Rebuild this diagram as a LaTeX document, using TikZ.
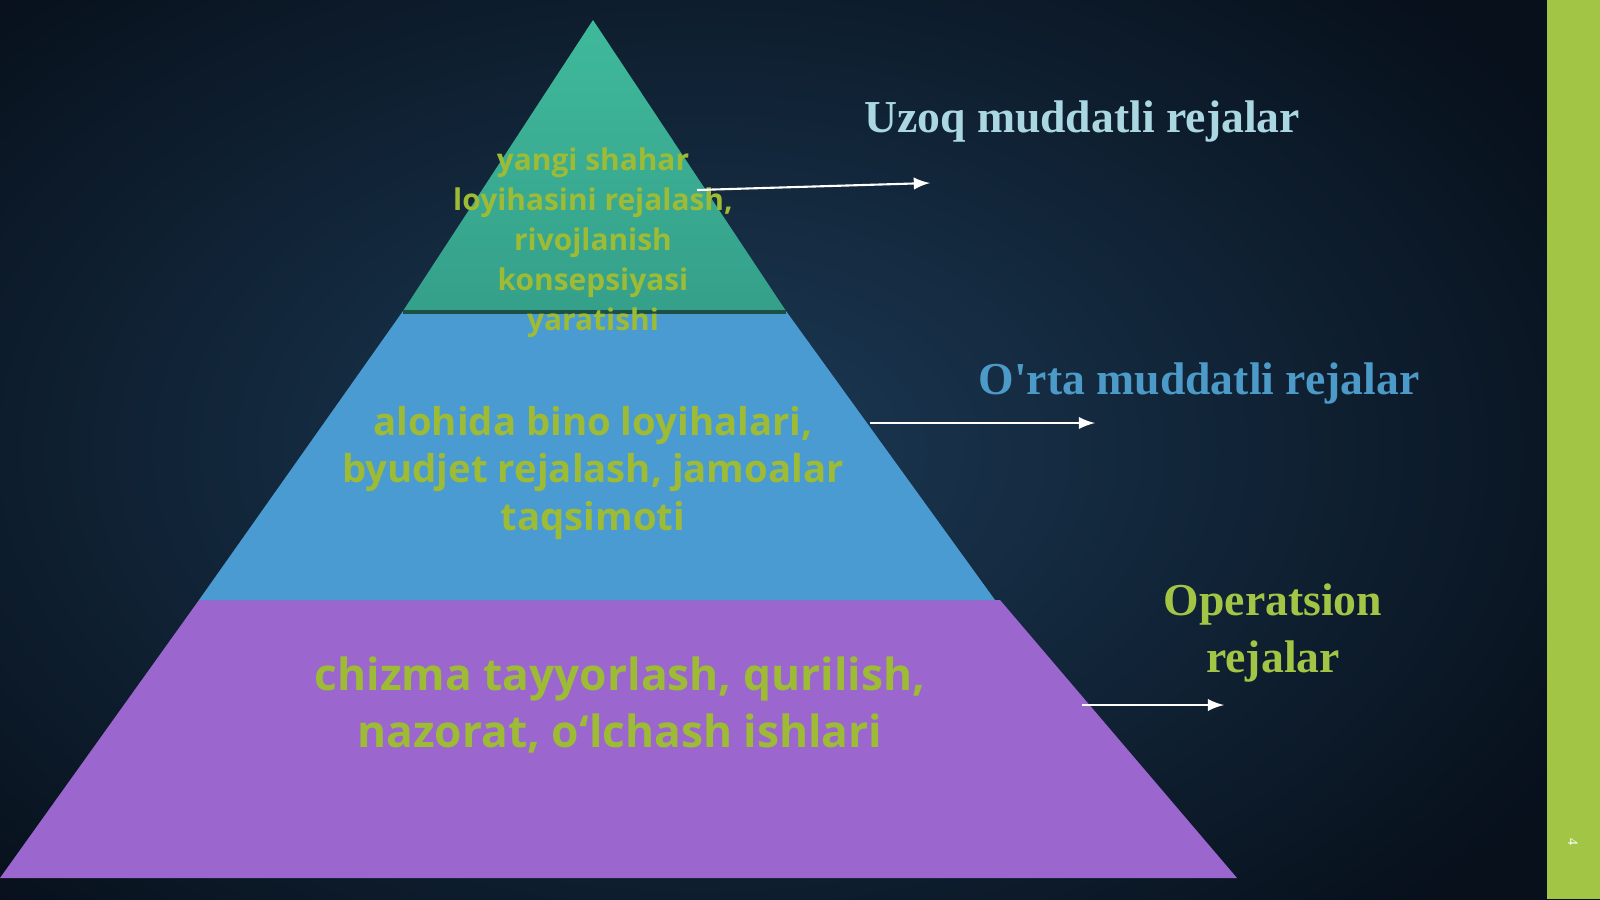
\documentclass[tikz,border=0pt]{standalone}
\usepackage{fontspec}
\setmainfont{Liberation Serif}
\newfontfamily\os{Open Sans}
\begin{document}
\begin{tikzpicture}[x=0.01cm,y=-0.01cm,
 ttl/.style={font=\bfseries\fontsize{13}{15}\selectfont,align=center},
 ptxt/.style={font=\os\bfseries,text=olive1,align=center},
 arr/.style={white,line width=0.6pt,-latex}]
\definecolor{bg}{HTML}{1C3A56}
\definecolor{bgd}{HTML}{07101B}
\definecolor{olive1}{HTML}{9DBB35}
\definecolor{teal1}{HTML}{3FB99B}
\definecolor{teal2}{HTML}{35A08A}
\definecolor{blue1}{HTML}{4A9BD2}
\definecolor{purp}{HTML}{9B66CD}
\definecolor{lime}{HTML}{A3C545}
\useasboundingbox (0,0) rectangle (1600,899);
\fill[bgd] (0,0) rectangle (1600,899);
\shade[inner color=bg,outer color=bgd] (-300,-200) rectangle (1700,1100);
\fill[lime] (1547,0) rectangle (1600,899);
\node[rotate=-90,text=white,font=\fontsize{4}{4}\selectfont] (pg) at (1573,842) {4};
% pyramid
\fill[purp] (0,878) -- (1237,878) -- (1000,600) -- (199,600) -- cycle;
\fill[blue1] (199,600) -- (995,600) -- (786,311) -- (403,311) -- cycle;
\shade[top color=teal1,bottom color=teal2] (403,311) -- (786,311) -- (593,20) -- cycle;
\draw[teal2!50!black,line width=1pt] (403,312) -- (786,312);
% texts
\node[ptxt,font=\os\bfseries\fontsize{8.5}{11.4}\selectfont] (t1) at (593,243) {yangi shahar\\loyihasini rejalash,\\rivojlanish\\konsepsiyasi\\yaratishi};
\node[ptxt,font=\os\bfseries\fontsize{10.9}{13.6}\selectfont] (t2) at (593,473) {alohida bino loyihalari,\\byudjet rejalash, jamoalar\\taqsimoti};
\node[ptxt,font=\os\bfseries\fontsize{12.6}{16}\selectfont] (t3) at (620,705) {chizma tayyorlash, qurilish,\\nazorat, o‘lchash ishlari};
\node[ttl,text={rgb,255:red,170;green,215;blue,225}] (u) at (1082,121) {Uzoq muddatli rejalar};
\node[ttl,text={rgb,255:red,76;green,154;blue,200}] (o) at (1199,383) {O\textquotesingle rta muddatli rejalar};
\node[ttl,text=lime,font=\bfseries\fontsize{13}{16}\selectfont] (op) at (1273,633) {Operatsion\\rejalar};
\coordinate (a1s) at (697,190); \coordinate (a1e) at (930,183);
\coordinate (a2s) at (870,423); \coordinate (a2e) at (1095,423);
\coordinate (a3s) at (1082,705); \coordinate (a3e) at (1224,705);
\draw[arr] (a1s) -- (a1e);
\draw[arr] (a2s) -- (a2e);
\draw[arr] (a3s) -- (a3e);
\end{tikzpicture}
\end{document}
